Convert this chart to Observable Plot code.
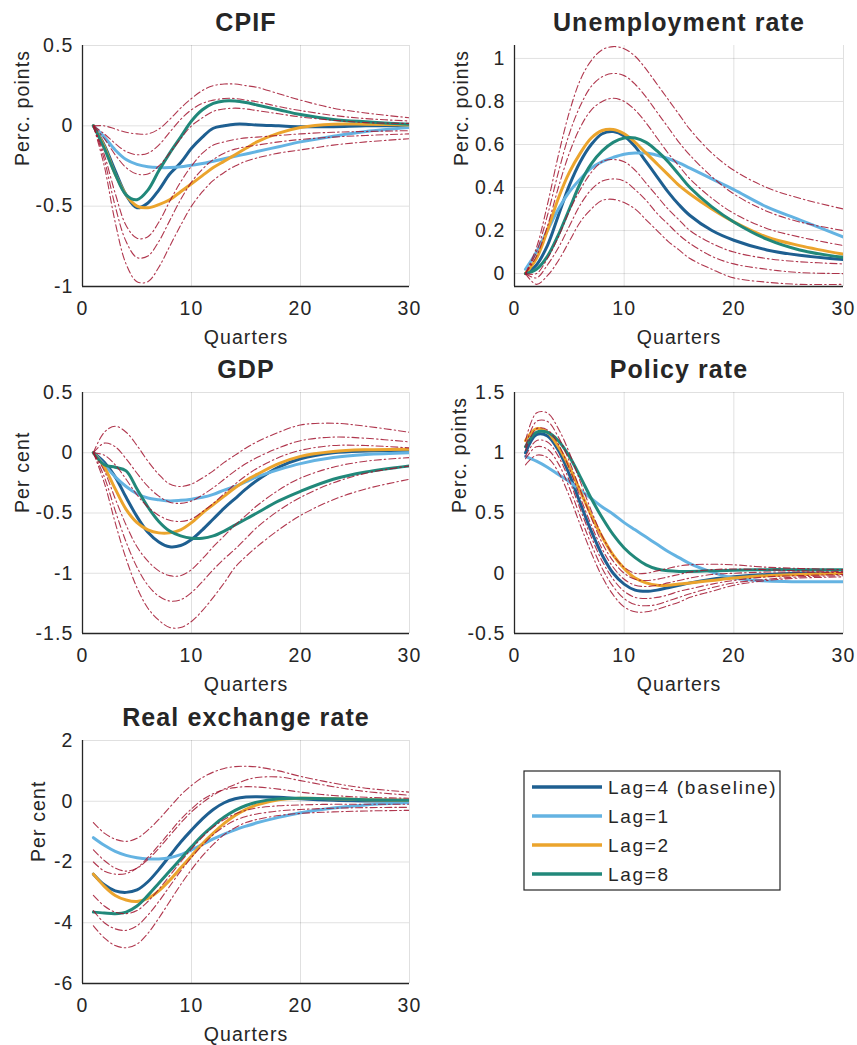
<!DOCTYPE html>
<html><head><meta charset="utf-8">
<script src="https://cdn.jsdelivr.net/npm/d3@7"></script>
<script src="https://cdn.jsdelivr.net/npm/@observablehq/plot@0.6"></script>
<style>
body{margin:0;background:#fff;}
#fig{position:relative;width:857px;height:1045px;background:#fff;overflow:hidden;}
#fig > svg, #fig > div{position:absolute;}
</style></head><body><div id="fig"></div><script>
// ---- shared axis / category data ----
const QUARTERS = [1,2,3,4,5,6,7,8,9,10,11,12,13,14,15,16,18,20,23,26,30];
const X_TICKS = [0,10,20,30];
const LAGS = ["Lag=4 (baseline)", "Lag=1", "Lag=2", "Lag=8"];
const LAG_COLORS = ["#1e5f91", "#64b3e2", "#eba42d", "#21887a"];
const BANDS = ["u3","u2","u1","l1","l2","l3"];
const BAND_COLOR = "#a2142f";

// ---- CPIF ----
const CPIF_LAG4 = [0,-0.12,-0.28,-0.43,-0.51,-0.48,-0.40,-0.30,-0.23,-0.14,-0.07,-0.015,0.0,0.01,0.01,0.005,0,-0.005,-0.005,0,0];
const CPIF_LAG1 = [0,-0.07,-0.15,-0.21,-0.24,-0.255,-0.26,-0.26,-0.255,-0.245,-0.235,-0.22,-0.205,-0.19,-0.175,-0.16,-0.13,-0.1,-0.065,-0.035,-0.01];
const CPIF_LAG2 = [0,-0.13,-0.3,-0.43,-0.5,-0.51,-0.49,-0.46,-0.41,-0.36,-0.31,-0.26,-0.22,-0.18,-0.14,-0.1,-0.045,-0.01,0.01,0.01,0.005];
const CPIF_LAG8 = [0,-0.14,-0.3,-0.43,-0.46,-0.40,-0.28,-0.17,-0.07,0.03,0.1,0.14,0.155,0.155,0.145,0.13,0.1,0.07,0.04,0.025,0.01];
const CPIF_U3 = [0,0.0,-0.02,-0.04,-0.05,-0.05,-0.02,0.04,0.11,0.17,0.22,0.25,0.26,0.26,0.25,0.24,0.2,0.16,0.11,0.08,0.05];
const CPIF_U2 = [0,-0.05,-0.11,-0.16,-0.18,-0.17,-0.12,-0.04,0.04,0.1,0.14,0.16,0.17,0.17,0.16,0.15,0.12,0.095,0.065,0.045,0.03];
const CPIF_U1 = [0,-0.08,-0.18,-0.26,-0.3,-0.3,-0.25,-0.17,-0.08,0.0,0.05,0.09,0.105,0.11,0.105,0.095,0.075,0.055,0.035,0.02,0.015];
const CPIF_L1 = [0,-0.18,-0.42,-0.62,-0.7,-0.69,-0.6,-0.47,-0.35,-0.25,-0.17,-0.12,-0.1,-0.085,-0.075,-0.07,-0.06,-0.05,-0.04,-0.035,-0.03];
const CPIF_L2 = [0,-0.21,-0.5,-0.72,-0.82,-0.81,-0.72,-0.59,-0.46,-0.35,-0.27,-0.21,-0.17,-0.145,-0.13,-0.12,-0.1,-0.085,-0.07,-0.06,-0.05];
const CPIF_L3 = [0,-0.25,-0.6,-0.86,-0.97,-0.97,-0.88,-0.75,-0.62,-0.5,-0.41,-0.34,-0.29,-0.25,-0.22,-0.2,-0.17,-0.15,-0.12,-0.1,-0.08];
const CPIF_TICKS = [-1,-0.5,0,0.5];

// ---- Unemployment rate ----
const UNEMP_LAG4 = [0,0.04,0.13,0.27,0.41,0.52,0.6,0.65,0.66,0.64,0.59,0.52,0.45,0.38,0.32,0.27,0.2,0.155,0.11,0.085,0.065];
const UNEMP_LAG1 = [0.02,0.1,0.2,0.3,0.38,0.44,0.49,0.52,0.54,0.555,0.56,0.56,0.55,0.535,0.515,0.49,0.44,0.39,0.31,0.25,0.17];
const UNEMP_LAG2 = [0,0.07,0.2,0.35,0.47,0.56,0.63,0.665,0.67,0.65,0.61,0.56,0.51,0.46,0.41,0.37,0.3,0.24,0.17,0.13,0.09];
const UNEMP_LAG8 = [0,0.02,0.08,0.18,0.3,0.42,0.51,0.57,0.61,0.63,0.63,0.61,0.57,0.52,0.46,0.4,0.31,0.24,0.16,0.11,0.075];
const UNEMP_U3 = [0,0.12,0.32,0.55,0.75,0.9,0.99,1.04,1.055,1.045,1.01,0.95,0.88,0.81,0.74,0.67,0.56,0.48,0.4,0.35,0.3];
const UNEMP_U2 = [0,0.1,0.27,0.47,0.65,0.78,0.87,0.915,0.93,0.92,0.88,0.82,0.75,0.68,0.61,0.55,0.45,0.37,0.29,0.24,0.2];
const UNEMP_U1 = [0,0.08,0.22,0.4,0.56,0.68,0.76,0.8,0.815,0.8,0.76,0.7,0.63,0.56,0.5,0.44,0.35,0.28,0.21,0.17,0.13];
const UNEMP_L1 = [0,0.0,0.07,0.17,0.29,0.39,0.47,0.52,0.53,0.52,0.48,0.42,0.36,0.3,0.25,0.2,0.14,0.1,0.07,0.055,0.045];
const UNEMP_L2 = [0,-0.02,0.04,0.12,0.22,0.32,0.39,0.43,0.44,0.43,0.39,0.34,0.28,0.23,0.18,0.14,0.08,0.045,0.02,0.005,0.0];
const UNEMP_L3 = [0,-0.05,-0.01,0.06,0.15,0.24,0.3,0.34,0.345,0.33,0.3,0.25,0.2,0.15,0.11,0.07,0.02,-0.02,-0.04,-0.05,-0.05];
const UNEMP_TICKS = [0,0.2,0.4,0.6,0.8,1];

// ---- GDP ----
const GDP_LAG4 = [0,-0.08,-0.2,-0.37,-0.53,-0.66,-0.74,-0.78,-0.77,-0.72,-0.64,-0.55,-0.46,-0.38,-0.3,-0.23,-0.12,-0.05,0.0,0.015,0.02];
const GDP_LAG1 = [0,-0.1,-0.2,-0.28,-0.34,-0.375,-0.39,-0.4,-0.395,-0.385,-0.37,-0.345,-0.31,-0.28,-0.24,-0.2,-0.14,-0.09,-0.04,-0.015,0.0];
const GDP_LAG2 = [0,-0.12,-0.3,-0.47,-0.58,-0.64,-0.665,-0.665,-0.64,-0.58,-0.5,-0.43,-0.36,-0.29,-0.23,-0.18,-0.09,-0.03,0.01,0.025,0.03];
const GDP_LAG8 = [0,-0.1,-0.12,-0.15,-0.3,-0.45,-0.57,-0.65,-0.69,-0.71,-0.71,-0.69,-0.65,-0.6,-0.55,-0.5,-0.4,-0.32,-0.22,-0.16,-0.11];
const GDP_U3 = [0,0.17,0.22,0.17,0.06,-0.07,-0.18,-0.26,-0.28,-0.26,-0.21,-0.15,-0.08,-0.02,0.04,0.09,0.17,0.23,0.245,0.22,0.17];
const GDP_U2 = [0,0.08,0.05,-0.05,-0.17,-0.28,-0.36,-0.41,-0.42,-0.4,-0.35,-0.29,-0.22,-0.15,-0.09,-0.04,0.04,0.1,0.13,0.12,0.09];
const GDP_U1 = [0,-0.02,-0.1,-0.22,-0.35,-0.45,-0.52,-0.56,-0.57,-0.55,-0.49,-0.42,-0.34,-0.26,-0.19,-0.13,-0.04,0.02,0.06,0.06,0.04];
const GDP_L1 = [0,-0.15,-0.38,-0.6,-0.78,-0.9,-0.98,-1.02,-1.02,-0.97,-0.88,-0.78,-0.69,-0.6,-0.52,-0.44,-0.31,-0.21,-0.12,-0.07,-0.04];
const GDP_L2 = [0,-0.2,-0.48,-0.74,-0.95,-1.1,-1.19,-1.23,-1.22,-1.16,-1.07,-0.97,-0.88,-0.8,-0.71,-0.62,-0.48,-0.37,-0.25,-0.17,-0.11];
const GDP_L3 = [0,-0.25,-0.58,-0.88,-1.12,-1.29,-1.39,-1.45,-1.45,-1.4,-1.31,-1.2,-1.08,-0.95,-0.86,-0.78,-0.64,-0.52,-0.39,-0.3,-0.22];
const GDP_TICKS = [-1.5,-1,-0.5,0,0.5];

// ---- Policy rate ----
const POLICY_LAG4 = [1.0,1.15,1.14,1.02,0.82,0.58,0.35,0.15,0.0,-0.09,-0.14,-0.15,-0.14,-0.12,-0.1,-0.08,-0.05,-0.03,-0.01,0.0,0.0];
const POLICY_LAG1 = [0.97,0.93,0.88,0.82,0.76,0.69,0.62,0.55,0.49,0.42,0.36,0.3,0.24,0.18,0.13,0.08,0.01,-0.04,-0.065,-0.07,-0.07];
const POLICY_LAG2 = [1.1,1.2,1.17,1.05,0.88,0.68,0.48,0.3,0.15,0.04,-0.04,-0.08,-0.1,-0.1,-0.09,-0.08,-0.06,-0.04,-0.02,-0.01,0.0];
const POLICY_LAG8 = [1.05,1.17,1.17,1.1,0.97,0.8,0.62,0.46,0.32,0.21,0.13,0.07,0.035,0.02,0.015,0.015,0.02,0.025,0.03,0.03,0.03];
const POLICY_U3 = [1.1,1.33,1.33,1.2,1.0,0.76,0.52,0.31,0.15,0.05,0.0,0.0,0.02,0.04,0.06,0.07,0.075,0.07,0.05,0.04,0.03];
const POLICY_U2 = [1.05,1.26,1.26,1.13,0.93,0.69,0.46,0.25,0.1,0.0,-0.05,-0.06,-0.05,-0.03,-0.01,0.01,0.03,0.035,0.03,0.02,0.015];
const POLICY_U1 = [1.02,1.2,1.19,1.07,0.87,0.63,0.4,0.2,0.05,-0.05,-0.1,-0.11,-0.1,-0.08,-0.06,-0.04,-0.01,0.0,0.01,0.01,0.005];
const POLICY_L1 = [0.97,1.1,1.09,0.97,0.77,0.53,0.3,0.1,-0.05,-0.15,-0.2,-0.21,-0.2,-0.18,-0.15,-0.13,-0.09,-0.06,-0.03,-0.02,-0.01];
const POLICY_L2 = [0.95,1.05,1.03,0.91,0.71,0.47,0.24,0.04,-0.11,-0.21,-0.26,-0.27,-0.26,-0.23,-0.2,-0.17,-0.12,-0.08,-0.05,-0.03,-0.02];
const POLICY_L3 = [0.9,0.98,0.96,0.84,0.64,0.4,0.17,-0.03,-0.18,-0.28,-0.32,-0.32,-0.3,-0.27,-0.24,-0.2,-0.15,-0.1,-0.06,-0.04,-0.03];
const POLICY_TICKS = [-0.5,0,0.5,1,1.5];

// ---- Real exchange rate ----
const REER_LAG4 = [-2.4,-2.75,-2.95,-3.0,-2.92,-2.65,-2.25,-1.8,-1.35,-0.95,-0.58,-0.27,-0.05,0.08,0.14,0.15,0.13,0.08,0.03,0.01,0.0];
const REER_LAG1 = [-1.2,-1.45,-1.65,-1.78,-1.86,-1.9,-1.9,-1.86,-1.76,-1.6,-1.42,-1.24,-1.08,-0.94,-0.82,-0.71,-0.53,-0.38,-0.22,-0.12,-0.05];
const REER_LAG2 = [-2.4,-2.8,-3.1,-3.25,-3.3,-3.2,-2.95,-2.6,-2.2,-1.8,-1.4,-1.05,-0.73,-0.47,-0.27,-0.12,0.05,0.1,0.08,0.05,0.03];
const REER_LAG8 = [-3.65,-3.68,-3.7,-3.65,-3.45,-3.1,-2.7,-2.3,-1.9,-1.5,-1.12,-0.8,-0.52,-0.3,-0.14,-0.03,0.08,0.1,0.08,0.05,0.03];
const REER_U3 = [-0.7,-1.05,-1.25,-1.32,-1.22,-0.95,-0.6,-0.2,0.2,0.52,0.78,0.96,1.08,1.14,1.15,1.13,1.0,0.82,0.6,0.43,0.3];
const REER_U2 = [-1.6,-1.95,-2.2,-2.3,-2.2,-1.92,-1.55,-1.13,-0.72,-0.35,-0.05,0.2,0.4,0.55,0.7,0.78,0.8,0.68,0.48,0.32,0.2];
const REER_U1 = [-2.0,-2.3,-2.4,-2.38,-2.2,-1.85,-1.45,-1.02,-0.6,-0.25,0.05,0.25,0.38,0.45,0.48,0.47,0.4,0.3,0.19,0.13,0.1];
const REER_L1 = [-3.1,-3.45,-3.65,-3.7,-3.6,-3.3,-2.9,-2.45,-2.0,-1.57,-1.18,-0.85,-0.6,-0.42,-0.3,-0.22,-0.15,-0.12,-0.1,-0.1,-0.1];
const REER_L2 = [-3.6,-4.0,-4.2,-4.25,-4.1,-3.75,-3.3,-2.8,-2.3,-1.85,-1.45,-1.1,-0.83,-0.63,-0.5,-0.42,-0.32,-0.27,-0.23,-0.21,-0.2];
const REER_L3 = [-4.1,-4.5,-4.75,-4.82,-4.7,-4.35,-3.85,-3.3,-2.75,-2.25,-1.8,-1.42,-1.1,-0.87,-0.7,-0.6,-0.47,-0.4,-0.35,-0.32,-0.3];
const REER_TICKS = [-6,-4,-2,0,2];

// ---- build long tables ----
function longTable(arrays, names, key) {
  return arrays.flatMap((arr, i) => arr.map((v, j) => ({q: QUARTERS[j], v, [key]: names[i]})));
}

const FONT = "'Liberation Sans', Arial, Helvetica, sans-serif";
const fig = document.getElementById("fig");

function panel(cfg) {
  const lines = longTable(cfg.lags, LAGS, "s");
  const bands = longTable(cfg.bands, BANDS, "b");
  const ymin = cfg.ydomain[0];
  const chart = Plot.plot({
    width: cfg.width, height: cfg.height,
    marginLeft: cfg.mLeft, marginRight: cfg.mRight, marginTop: cfg.mTop, marginBottom: cfg.mBottom,
    x: {domain: [0, 30]},
    y: {domain: cfg.ydomain},
    color: {domain: LAGS, range: LAG_COLORS},
    style: {fontFamily: FONT, fontSize: "19.5px", letterSpacing: "1.1px", color: "#262626", background: "transparent", overflow: "visible"},
    marks: [
      Plot.gridX([10, 20, 30], {stroke: "#000", strokeOpacity: 0.12}),
      Plot.gridY(cfg.yticks, {stroke: "#000", strokeOpacity: 0.12}),
      Plot.line(lines, {x: "q", y: "v", z: "s", stroke: "s", strokeWidth: 3, curve: "catmull-rom", clip: true}),
      Plot.line(bands, {x: "q", y: "v", z: "b", stroke: BAND_COLOR, strokeWidth: 1.1, strokeOpacity: 0.85, strokeDasharray: "7,3,1.5,3", curve: "catmull-rom", clip: true}),
      Plot.ruleX([0], {stroke: "#262626", strokeWidth: 1.3}),
      Plot.ruleY([ymin], {stroke: "#262626", strokeWidth: 1.3}),
      Plot.axisX(X_TICKS, {tickSize: 0, tickPadding: 15, tickFormat: d => String(d), label: null}),
      Plot.axisY(cfg.yticks, {tickSize: 0, tickPadding: 9, tickFormat: d => String(d), label: null}),
      Plot.text([cfg.title], {text: d => d, frameAnchor: "top", lineAnchor: "middle", dy: -23, fontWeight: "bold", fontSize: 25, letterSpacing: 1.3}),
      Plot.text(["Quarters"], {text: d => d, frameAnchor: "bottom", lineAnchor: "middle", dy: 51}),
      Plot.text([cfg.ylabel], {text: d => d, frameAnchor: "left", lineAnchor: "middle", dx: cfg.ylabelDx, rotate: -90})
    ]
  });
  chart.style.left = cfg.left + "px";
  chart.style.top = cfg.top + "px";
  fig.appendChild(chart);
}

const LEFT = {left: 0, width: 425, mLeft: 82, mRight: 16};
const RIGHT = {left: 428, width: 429, mLeft: 86, mRight: 14};

panel({...LEFT, top: 0, height: 348, mTop: 45, mBottom: 62, title: "CPIF", ylabel: "Perc. points", ylabelDx: -60,
  ydomain: [-1, 0.5], yticks: CPIF_TICKS,
  lags: [CPIF_LAG4, CPIF_LAG1, CPIF_LAG2, CPIF_LAG8],
  bands: [CPIF_U3, CPIF_U2, CPIF_U1, CPIF_L1, CPIF_L2, CPIF_L3]});
panel({...RIGHT, top: 0, height: 348, mTop: 45, mBottom: 62, title: "Unemployment rate", ylabel: "Perc. points", ylabelDx: -53,
  ydomain: [-0.06, 1.06], yticks: UNEMP_TICKS,
  lags: [UNEMP_LAG4, UNEMP_LAG1, UNEMP_LAG2, UNEMP_LAG8],
  bands: [UNEMP_U3, UNEMP_U2, UNEMP_U1, UNEMP_L1, UNEMP_L2, UNEMP_L3]});
panel({...LEFT, top: 347, height: 348, mTop: 45, mBottom: 62, title: "GDP", ylabel: "Per cent", ylabelDx: -60,
  ydomain: [-1.5, 0.5], yticks: GDP_TICKS,
  lags: [GDP_LAG4, GDP_LAG1, GDP_LAG2, GDP_LAG8],
  bands: [GDP_U3, GDP_U2, GDP_U1, GDP_L1, GDP_L2, GDP_L3]});
panel({...RIGHT, top: 347, height: 348, mTop: 45, mBottom: 62, title: "Policy rate", ylabel: "Perc. points", ylabelDx: -55,
  ydomain: [-0.5, 1.5], yticks: POLICY_TICKS,
  lags: [POLICY_LAG4, POLICY_LAG1, POLICY_LAG2, POLICY_LAG8],
  bands: [POLICY_U3, POLICY_U2, POLICY_U1, POLICY_L1, POLICY_L2, POLICY_L3]});
panel({...LEFT, top: 695, height: 350, mTop: 45, mBottom: 62, title: "Real exchange rate", ylabel: "Per cent", ylabelDx: -44,
  ydomain: [-6, 2], yticks: REER_TICKS,
  lags: [REER_LAG4, REER_LAG1, REER_LAG2, REER_LAG8],
  bands: [REER_U3, REER_U2, REER_U1, REER_L1, REER_L2, REER_L3]});

// ---- legend ----
const leg = d3.select(fig).append("svg")
  .attr("width", 258).attr("height", 121)
  .style("left", "523px").style("top", "770px")
  .attr("font-family", FONT).attr("font-size", 19).style("letter-spacing", "1.7px");
leg.append("rect").attr("x", 1).attr("y", 1).attr("width", 256).attr("height", 119)
  .attr("fill", "#fff").attr("stroke", "#262626").attr("stroke-width", 1.2);
LAGS.forEach((name, i) => {
  const y = 17 + i * 29;
  leg.append("line").attr("x1", 9).attr("x2", 79).attr("y1", y).attr("y2", y)
    .attr("stroke", LAG_COLORS[i]).attr("stroke-width", 3.5);
  leg.append("text").attr("x", 85).attr("y", y).attr("dy", "0.35em").attr("fill", "#262626").text(name);
});
</script></body></html>
